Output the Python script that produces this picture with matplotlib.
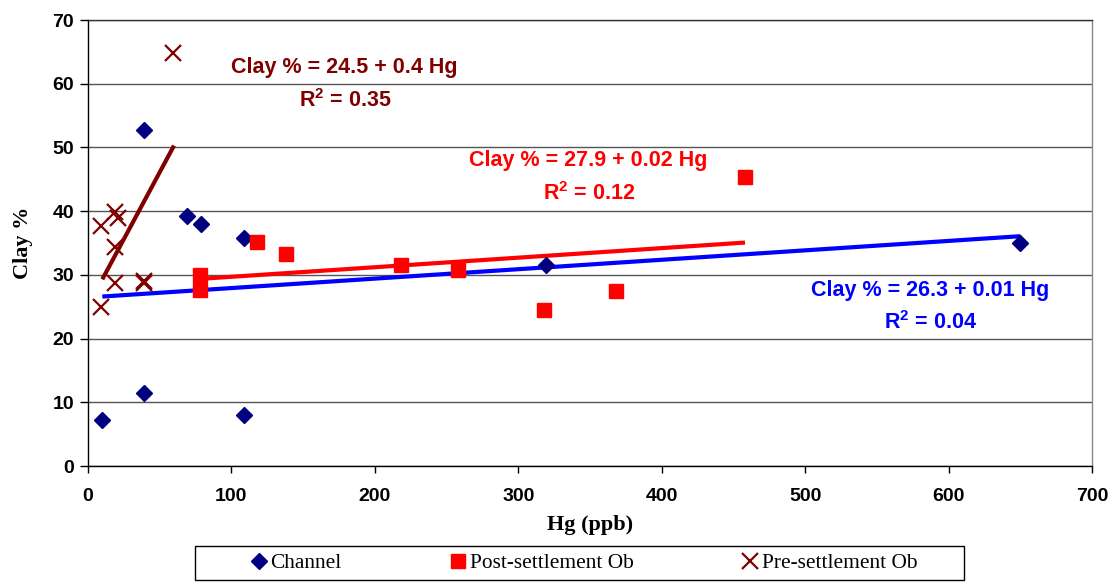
import matplotlib.pyplot as plt
from matplotlib.patches import Rectangle
import numpy as np

plt.rcParams['mathtext.fontset'] = 'custom'
plt.rcParams['mathtext.bf'] = 'Liberation Sans:bold'
plt.rcParams['mathtext.rm'] = 'Liberation Sans:bold'
plt.rcParams['mathtext.default'] = 'bf'

# ---------------------------------------------------------------
# data
# ---------------------------------------------------------------
channel_hg   = [10, 39, 39, 69, 79, 109, 109, 319, 650]
channel_clay = [7.2, 52.8, 11.5, 39.2, 38.0, 35.8, 8.0, 31.5, 35.0]

post_hg   = [78, 78, 118, 138, 218, 258, 318, 368, 458]
post_clay = [30.0, 27.6, 35.2, 33.3, 31.5, 30.7, 24.5, 27.5, 45.4]

pre_hg   = [9, 9, 19, 21, 19, 19, 39, 39, 59]
pre_clay = [37.7, 24.9, 39.9, 38.9, 34.3, 28.7, 28.7, 29.1, 64.8]

# trend lines as drawn (intercept, slope, x range)
channel_fit = (26.45, 0.0148, [10, 650])
post_fit    = (28.2, 0.0150, [78, 458])
pre_fit     = (25.1, 0.42, [10, 60])

channel_eq = ['Clay % = 26.3 + 0.01 Hg', r'R$^2$ = 0.04']
post_eq    = ['Clay % = 27.9 + 0.02 Hg', r'R$^2$ = 0.12']
pre_eq     = ['Clay % = 24.5 + 0.4 Hg', r'R$^2$ = 0.35']

x_ticks = [0, 100, 200, 300, 400, 500, 600, 700]
y_ticks = [0, 10, 20, 30, 40, 50, 60, 70]

NAVY = '#000080'
RED = '#FF0000'
DKRED = '#800000'
BLUE = '#0000FF'

fig = plt.figure(figsize=(11.19, 5.82), dpi=100)
ax = fig.add_axes([0.0786, 0.1993, 0.8974, 0.7663])

# fits
def fitline(fit, color):
    a, b, xr = fit
    xr = np.array(xr, dtype=float)
    ax.plot(xr, a + b*xr, color=color, linewidth=3.0, solid_capstyle='butt', zorder=3)

fitline(channel_fit, BLUE)
fitline(post_fit, RED)
fitline(pre_fit, DKRED)

ax.plot(channel_hg, channel_clay, linestyle='none', marker='D', markersize=8.5,
        color=NAVY, label='Channel', zorder=4)
ax.plot(post_hg, post_clay, linestyle='none', marker='s', markersize=9.5,
        color=RED, label='Post-settlement Ob', zorder=4)
ax.plot(pre_hg, pre_clay, linestyle='none', marker='x', markersize=11,
        markeredgewidth=1.6, color=DKRED, label='Pre-settlement Ob', zorder=4)

# equations
lab = dict(ha='center', va='center', fontsize=15.5, fontweight='bold',
           family='Liberation Sans')
ax.text(179, 62.6, pre_eq[0], color=DKRED, **lab)
ax.text(179, 57.4, pre_eq[1], color=DKRED, **lab)
ax.text(349, 47.9, post_eq[0], color=RED, **lab)
ax.text(349, 42.8, post_eq[1], color=RED, **lab)
ax.text(587, 27.6, channel_eq[0], color=BLUE, **lab)
ax.text(587, 22.5, channel_eq[1], color=BLUE, **lab)

ax.set_xlim(0, 700)
ax.set_ylim(0, 70)
ax.set_xticks(x_ticks)
ax.set_yticks(y_ticks)
for t in ax.get_xticklabels() + ax.get_yticklabels():
    t.set_family('Liberation Sans')
    t.set_fontweight('bold')
    t.set_fontsize(14)
ax.tick_params(axis='y', direction='out', length=6, width=1, pad=4)
ax.tick_params(axis='x', direction='out', length=5, width=1, pad=11)

ax.yaxis.grid(True, color='#555555', linewidth=1.0)
ax.set_axisbelow(True)
ax.spines['left'].set_color('black')
ax.spines['bottom'].set_color('black')
ax.spines['top'].set_color('#333333')
ax.spines['right'].set_color('#888888')
for s in ax.spines.values():
    s.set_linewidth(1.0)

ax.set_xlabel('Hg (ppb)', family='Liberation Serif', fontweight='bold',
              fontsize=16, labelpad=7)
ax.set_ylabel('Clay %', family='Liberation Serif', fontweight='bold',
              fontsize=16, labelpad=14)

# legend: frame drawn separately so entries sit like the original
fig.patches.append(Rectangle((195/1119, 2/582), 769/1119, 34/582,
                             transform=fig.transFigure, fill=False,
                             edgecolor='black', linewidth=1.0))
leg = fig.legend(loc='center left', bbox_to_anchor=(248/1119, 19/582),
                 ncol=3, frameon=False, handletextpad=0.05, handlelength=1.0,
                 columnspacing=4.95, borderaxespad=0, borderpad=0,
                 prop={'family': 'Liberation Serif', 'size': 15.4})

fig.savefig('out.png', dpi=100)
